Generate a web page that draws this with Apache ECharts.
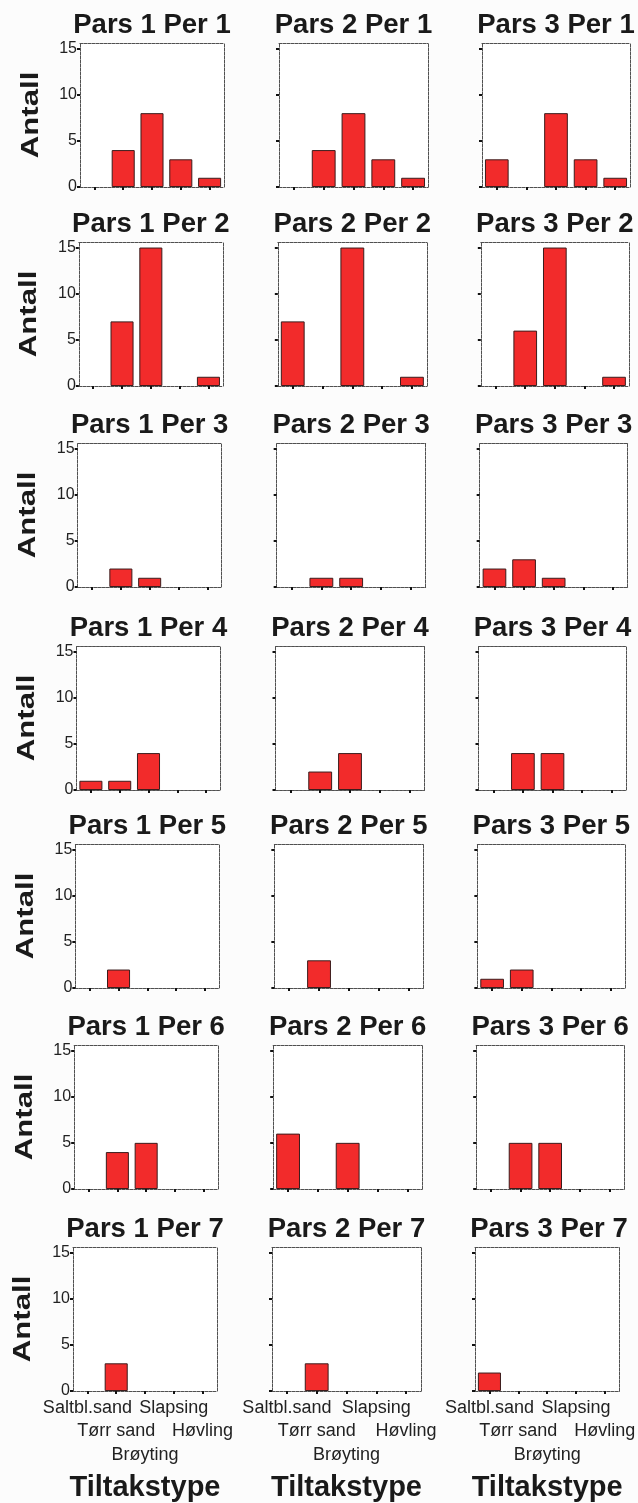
<!DOCTYPE html>
<html><head><meta charset="utf-8">
<script src="https://cdn.jsdelivr.net/npm/echarts@6/dist/echarts.min.js"></script>
<style>html,body{margin:0;padding:0;background:#fcfcfc}#c{width:638px;height:1503px}</style>
</head><body><div id="c"></div>
<script>
// ---- data ----
const categories = ['Saltbl.sand', 'Tørr sand', 'Brøyting', 'Slapsing', 'Høvling'];
const parsNames = ['Pars 1', 'Pars 2', 'Pars 3'];
const perNames = ['Per 1', 'Per 2', 'Per 3', 'Per 4', 'Per 5', 'Per 6', 'Per 7'];
const yTicks = [0, 5, 10, 15];
const yMax = 15.6;
const yAxisTitle = 'Antall';
const xAxisTitle = 'Tiltakstype';

const pars1Per1 = [0, 4, 8, 3, 1];
const pars2Per1 = [0, 4, 8, 3, 1];
const pars3Per1 = [3, 0, 8, 3, 1];
const pars1Per2 = [0, 7, 15, 0, 1];
const pars2Per2 = [7, 0, 15, 0, 1];
const pars3Per2 = [0, 6, 15, 0, 1];
const pars1Per3 = [0, 2, 1, 0, 0];
const pars2Per3 = [0, 1, 1, 0, 0];
const pars3Per3 = [2, 3, 1, 0, 0];
const pars1Per4 = [1, 1, 4, 0, 0];
const pars2Per4 = [0, 2, 4, 0, 0];
const pars3Per4 = [0, 4, 4, 0, 0];
const pars1Per5 = [0, 2, 0, 0, 0];
const pars2Per5 = [0, 3, 0, 0, 0];
const pars3Per5 = [1, 2, 0, 0, 0];
const pars1Per6 = [0, 4, 5, 0, 0];
const pars2Per6 = [6, 0, 5, 0, 0];
const pars3Per6 = [0, 5, 5, 0, 0];
const pars1Per7 = [0, 3, 0, 0, 0];
const pars2Per7 = [0, 3, 0, 0, 0];
const pars3Per7 = [2, 0, 0, 0, 0];

const panels = [
  [pars1Per1, pars2Per1, pars3Per1],
  [pars1Per2, pars2Per2, pars3Per2],
  [pars1Per3, pars2Per3, pars3Per3],
  [pars1Per4, pars2Per4, pars3Per4],
  [pars1Per5, pars2Per5, pars3Per5],
  [pars1Per6, pars2Per6, pars3Per6],
  [pars1Per7, pars2Per7, pars3Per7]
];

// ---- layout ----
const FONT = '"Liberation Sans", Arial, sans-serif';
const rowTops = [43, 242, 443, 646, 844, 1045, 1247];
const boxH = 144;
const colLefts = [80, 279, 482];
const colWidths = [144, 149, 148];
const skew = 7 / 6;
const frame = { color: '#505050', width: 1, type: [3, 1] };

const grids = [], xAxes = [], yAxes = [], series = [], titles = [], graphics = [];
let gi = 0;
for (let r = 0; r < perNames.length; r++) {
  for (let c = 0; c < parsNames.length; c++) {
    const left = colLefts[c] - r * skew;
    const top = rowTops[r];
    const w = colWidths[c];
    const bottomRow = r === perNames.length - 1;
    grids.push({ left: left, top: top, width: w, height: boxH, show: true,
      backgroundColor: '#ffffff', borderWidth: 0, containLabel: false });
    xAxes.push({
      type: 'category', gridIndex: gi, data: categories, position: 'bottom',
      axisLine: { show: true, onZero: false, lineStyle: frame },
      axisTick: { show: true, interval: 0, alignWithLabel: true, length: 3, lineStyle: { color: '#111', width: 2 } },
      axisLabel: bottomRow ? {
        show: true, interval: 0, hideOverlap: false, fontSize: 18, fontFamily: FONT, color: '#222',
        lineHeight: 23.5, margin: 5, verticalAlign: 'top',
        formatter: (v, idx) => '\n'.repeat(idx % 3) + v
      } : { show: false, interval: 0 },
      name: bottomRow ? xAxisTitle : '',
      nameLocation: 'middle', nameGap: 82,
      nameTextStyle: { fontSize: 29, fontWeight: 'bold', fontFamily: FONT, color: '#1a1a1a' }
    });
    xAxes.push({
      type: 'category', gridIndex: gi, data: categories, position: 'top',
      axisLine: { show: true, onZero: false, lineStyle: frame }, axisTick: { show: false }, axisLabel: { show: false }
    });
    yAxes.push({
      type: 'value', gridIndex: gi, min: 0, max: yMax, position: 'left',
      axisLine: { show: true, onZero: false, lineStyle: frame },
      axisTick: { show: true, customValues: yTicks, length: 3, lineStyle: { color: '#111', width: 2 } },
      axisLabel: { show: c === 0, customValues: yTicks, fontSize: 16, fontFamily: FONT, color: '#222', margin: 3 },
      splitLine: { show: false }
    });
    yAxes.push({
      type: 'value', gridIndex: gi, min: 0, max: yMax, position: 'right',
      axisLine: { show: true, onZero: false, lineStyle: frame }, axisTick: { show: false }, axisLabel: { show: false },
      splitLine: { show: false }
    });
    series.push({
      type: 'bar', xAxisIndex: gi * 2, yAxisIndex: gi * 2, barWidth: '80%',
      data: panels[r][c].map(v => v === 0 ? null : v),
      itemStyle: { color: '#f22b2b', borderColor: '#3b1c1c', borderWidth: 1 },
      silent: true
    });
    titles.push({
      text: parsNames[c] + ' ' + perNames[r],
      left: left + w / 2, top: top - 32, textAlign: 'center', padding: 0,
      textStyle: { fontSize: 27.5, fontWeight: 'bold', fontFamily: FONT, color: '#1a1a1a' }
    });
    if (c === 0) {
      graphics.push({
        type: 'text', x: 31 - r * 1.2, y: top + boxH / 2, rotation: Math.PI / 2, scaleX: 1.3,
        style: { text: yAxisTitle, fontSize: 24, fontWeight: 'bold', fontFamily: FONT, fill: '#1a1a1a',
          align: 'center', verticalAlign: 'middle', textAlign: 'center', textVerticalAlign: 'middle' }
      });
    }
    gi++;
  }
}

const chart = echarts.init(document.getElementById('c'), null, { renderer: 'canvas' });
chart.setOption({
  backgroundColor: '#fcfcfc',
  animation: false,
  title: titles,
  grid: grids,
  xAxis: xAxes,
  yAxis: yAxes,
  series: series,
  graphic: graphics
});
</script>
</body></html>
